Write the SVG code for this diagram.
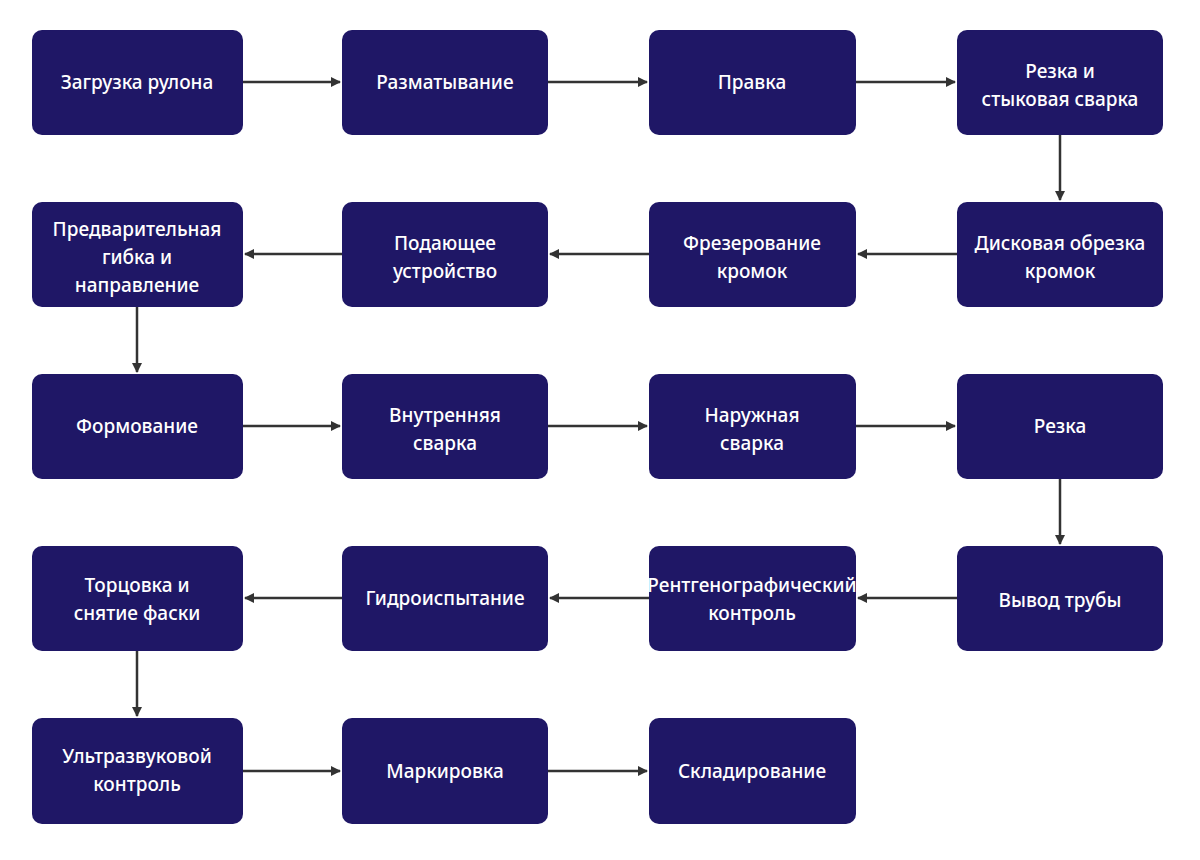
<svg xmlns="http://www.w3.org/2000/svg" width="1200" height="860" viewBox="0 0 1200 860">
<defs>
<marker id="a" markerWidth="10" markerHeight="10" refX="9" refY="5" orient="auto" markerUnits="userSpaceOnUse"><path d="M0,0 L10,5 L0,10 z" fill="#333"/></marker>
<style>
rect{fill:#1f1766;rx:10;ry:10}
text{fill:#fff;font-family:"Noto Sans","Liberation Sans",sans-serif;font-size:19px;font-weight:500;text-anchor:middle}
.c line{stroke:#333;stroke-width:2.5;marker-end:url(#a)}
</style>
</defs>
<rect x="0" y="0" width="1200" height="860" style="fill:#fff;rx:0"/>
<g class="c">
<line x1="243" y1="82" x2="340" y2="82"/><line x1="548" y1="82" x2="647" y2="82"/><line x1="856" y1="82" x2="955" y2="82"/>
<line x1="1060" y1="135" x2="1060" y2="200"/>
<line x1="957" y1="254" x2="858" y2="254"/><line x1="649" y1="254" x2="550" y2="254"/><line x1="342" y1="254" x2="245" y2="254"/>
<line x1="137" y1="307" x2="137" y2="372"/>
<line x1="243" y1="426" x2="340" y2="426"/><line x1="548" y1="426" x2="647" y2="426"/><line x1="856" y1="426" x2="955" y2="426"/>
<line x1="1060" y1="479" x2="1060" y2="544"/>
<line x1="957" y1="598" x2="858" y2="598"/><line x1="649" y1="598" x2="550" y2="598"/><line x1="342" y1="598" x2="245" y2="598"/>
<line x1="137" y1="651" x2="137" y2="716"/>
<line x1="243" y1="771" x2="340" y2="771"/><line x1="548" y1="771" x2="647" y2="771"/>
</g>
<g id="n1"><rect x="32" y="30" width="211" height="105"/><text x="137" y="89">Загрузка рулона</text></g>
<g id="n2"><rect x="342" y="30" width="206" height="105"/><text x="445" y="89">Разматывание</text></g>
<g id="n3"><rect x="649" y="30" width="207" height="105"/><text x="752" y="89">Правка</text></g>
<g id="n4"><rect x="957" y="30" width="206" height="105"/><text x="1060" y="78">Резка и</text><text x="1060" y="106">стыковая сварка</text></g>
<g id="n5"><rect x="957" y="202" width="206" height="105"/><text x="1060" y="250">Дисковая обрезка</text><text x="1060" y="278">кромок</text></g>
<g id="n6"><rect x="649" y="202" width="207" height="105"/><text x="752" y="250">Фрезерование</text><text x="752" y="278">кромок</text></g>
<g id="n7"><rect x="342" y="202" width="206" height="105"/><text x="445" y="250">Подающее</text><text x="445" y="278">устройство</text></g>
<g id="n8"><rect x="32" y="202" width="211" height="105"/><text x="137" y="236">Предварительная</text><text x="137" y="264">гибка и</text><text x="137" y="292">направление</text></g>
<g id="n9"><rect x="32" y="374" width="211" height="105"/><text x="137" y="433">Формование</text></g>
<g id="n10"><rect x="342" y="374" width="206" height="105"/><text x="445" y="422">Внутренняя</text><text x="445" y="450">сварка</text></g>
<g id="n11"><rect x="649" y="374" width="207" height="105"/><text x="752" y="422">Наружная</text><text x="752" y="450">сварка</text></g>
<g id="n12"><rect x="957" y="374" width="206" height="105"/><text x="1060" y="433">Резка</text></g>
<g id="n13"><rect x="957" y="546" width="206" height="105"/><text x="1060" y="607">Вывод трубы</text></g>
<g id="n14"><rect x="649" y="546" width="207" height="105"/><text x="752" y="592">Рентгенографический</text><text x="752" y="620">контроль</text></g>
<g id="n15"><rect x="342" y="546" width="206" height="105"/><text x="445" y="605">Гидроиспытание</text></g>
<g id="n16"><rect x="32" y="546" width="211" height="105"/><text x="137" y="592">Торцовка и</text><text x="137" y="620">снятие фаски</text></g>
<g id="n17"><rect x="32" y="718" width="211" height="106"/><text x="137" y="763">Ультразвуковой</text><text x="137" y="791">контроль</text></g>
<g id="n18"><rect x="342" y="718" width="206" height="106"/><text x="445" y="778">Маркировка</text></g>
<g id="n19"><rect x="649" y="718" width="207" height="106"/><text x="752" y="778">Складирование</text></g>
</svg>
